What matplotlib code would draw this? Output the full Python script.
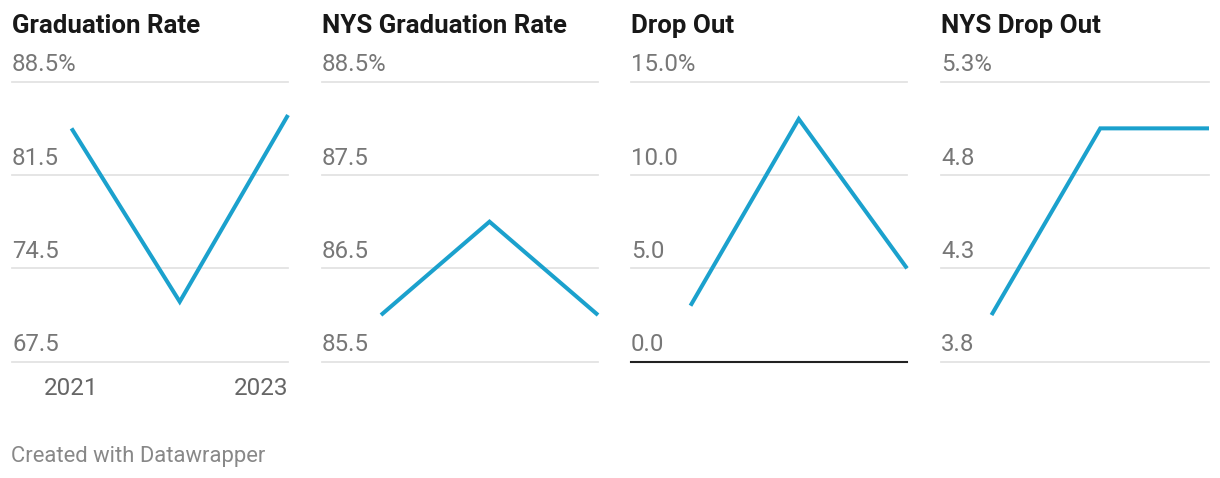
import matplotlib.pyplot as plt
import numpy as np

plt.rcParams['font.family'] = ['Roboto', 'DejaVu Sans']

years = [2021, 2022, 2023]
titles = ['Graduation Rate', 'NYS Graduation Rate', 'Drop Out', 'NYS Drop Out']
grad_rate = [85.0, 72.0, 86.0]
nys_grad_rate = [86.0, 87.0, 86.0]
drop_out = [3.0, 13.0, 5.0]
nys_drop_out = [4.0, 5.0, 5.0]
series = [grad_rate, nys_grad_rate, drop_out, nys_drop_out]
y_ticks = [[67.5, 74.5, 81.5, 88.5],
           [85.5, 86.5, 87.5, 88.5],
           [0.0, 5.0, 10.0, 15.0],
           [3.75, 4.25, 4.75, 5.25]]

W, H = 1220, 478
fig = plt.figure(figsize=(W / 100, H / 100), dpi=100)

# panel geometry in pixels: grid left, grid right, first data point x
panels = [(12, 288, 71.5), (322, 598, 381), (631, 907, 690.5), (941, 1209, 991.5)]
top, bottom = 81.7, 361.7

blue = '#1ba1cd'
grid_c = '#e3e3e3'
lab_c = '#777777'

for i, (L, R, x0) in enumerate(panels):
    ax = fig.add_axes([L / W, 1 - bottom / H, (R - L) / W, (bottom - top) / H])
    px_per_year = (R - x0) / 2
    ax.set_xlim(2021 - (x0 - L) / px_per_year, 2023)
    t = y_ticks[i]
    ax.set_ylim(t[0], t[-1])
    ax.axis('off')
    for k, v in enumerate(t):
        if i == 2 and k == 0:
            ax.axhline(v, color='#222222', lw=1.5, clip_on=False, zorder=3)
        else:
            ax.axhline(v, color=grid_c, lw=1.3, clip_on=False, zorder=1)
        lab = '%.1f' % (v + 1e-9)   # round half up like datawrapper
        if k == len(t) - 1:
            lab += '%'
        ax.annotate(lab, xy=(0, v), xycoords=('axes fraction', 'data'),
                    xytext=(0, 7.5), textcoords='offset points',
                    ha='left', va='baseline', fontsize=17.3, color=lab_c)
    ax.plot(years, series[i], color=blue, lw=2.9, solid_capstyle='butt',
            solid_joinstyle='miter', clip_on=False, zorder=4)
    fig.text(L / W, 1 - 33 / H, titles[i], fontsize=18.6, fontweight='bold',
             color='#181818', ha='left', va='baseline')

# x labels under the first panel
L, R, x0 = panels[0]
fig.text(x0 / W, 1 - 395 / H, str(years[0]), fontsize=17.5, color='#666666',
         ha='center', va='baseline')
fig.text(R / W, 1 - 395 / H, str(years[-1]), fontsize=17.5, color='#666666',
         ha='right', va='baseline')

fig.text(11 / W, 1 - 462 / H, 'Created with Datawrapper', fontsize=15.8,
         color='#888888', ha='left', va='baseline')

fig.savefig('out.png', dpi=100)
